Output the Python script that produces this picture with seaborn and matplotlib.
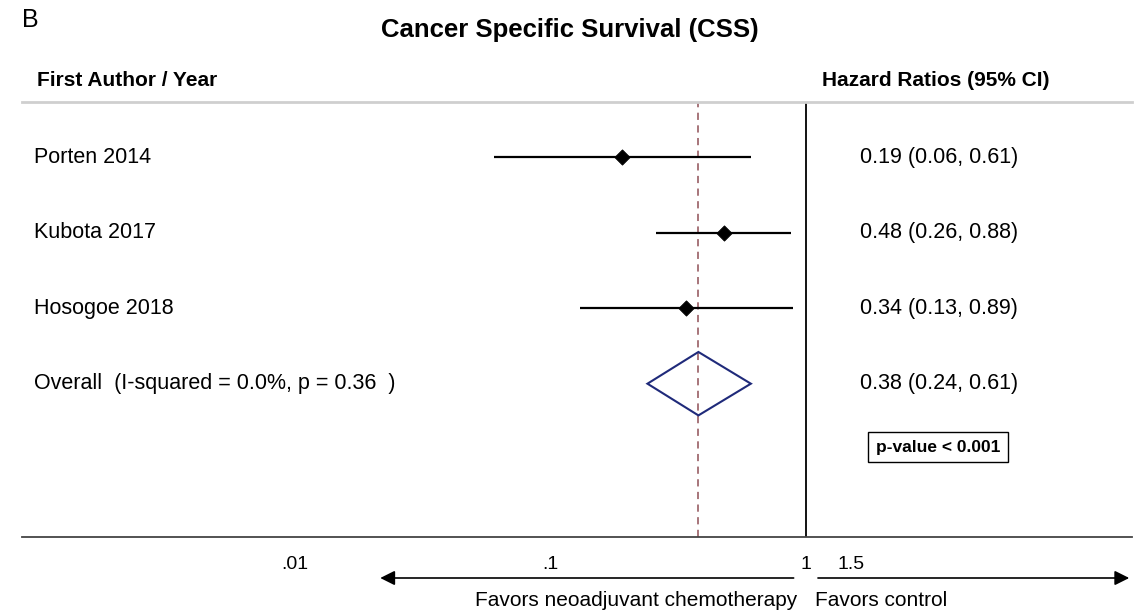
import numpy as np
import pandas as pd
import seaborn as sns
import matplotlib.pyplot as plt
from matplotlib.transforms import blended_transform_factory

studies = ['Porten 2014', 'Kubota 2017', 'Hosogoe 2018']
hr = [0.19, 0.48, 0.34]
ci_low = [0.06, 0.26, 0.13]
ci_high = [0.61, 0.88, 0.89]
rows = [1, 2, 3]

overall_label = 'Overall  (I-squared = 0.0%, p = 0.36  )'
overall_hr = 0.38
overall_low = 0.24
overall_high = 0.61
overall_row = 4

xticks = [0.01, 0.1, 1, 1.5]
xtick_labels = ['.01', '.1', '1', '1.5']

sns.set_style('white')
plt.rcParams['font.family'] = ['Liberation Sans', 'DejaVu Sans']
plt.rcParams['text.color'] = 'black'
plt.rcParams['xtick.color'] = 'black'

df = pd.DataFrame({'study': studies, 'hr': hr, 'lo': ci_low, 'hi': ci_high, 'row': rows})

fig = plt.figure(figsize=(11.4, 6.12), dpi=100)
ax = fig.add_axes([22 / 1140, 75 / 612, 1110 / 1140, 435 / 612])
ax.set_xscale('log')
ax.set_xlim(0.00085, 19)
ax.set_ylim(6.03, 0.27)

# CI lines + point estimates
ax.hlines(df['row'], df['lo'], df['hi'], color='black', lw=1.6, zorder=2)
sns.scatterplot(data=df, x='hr', y='row', marker='D', s=60, color='black',
                edgecolor='black', ax=ax, zorder=3, legend=False)

# pooled diamond
ax.fill([overall_low, overall_hr, overall_high, overall_hr, overall_low],
        [overall_row, overall_row - 0.42, overall_row, overall_row + 0.42, overall_row],
        facecolor='none', edgecolor='#1f2a7a', lw=1.5, zorder=3)

ax.axvline(1, color='black', lw=1.3, zorder=1)
ax.axvline(overall_hr, color='#a06a70', lw=1.3, ls=(0, (4, 3)), zorder=1)

# axes styling
for s in ['left', 'right']:
    ax.spines[s].set_visible(False)
ax.spines['top'].set_color('#cfcfcf')
ax.spines['top'].set_linewidth(2)
ax.spines['bottom'].set_color('#444444')
ax.spines['bottom'].set_linewidth(1.3)
ax.set_yticks([])
ax.set_xticks(xticks)
ax.set_xticklabels(xtick_labels, fontsize=14)
ax.minorticks_off()
ax.tick_params(axis='x', direction='out', length=8, width=1.2, color='#444444', pad=6)
ax.set_xlabel('')
ax.set_ylabel('')

# text columns
tr = blended_transform_factory(fig.transFigure, ax.transData)
for r, name, h, l, u in zip(rows, studies, hr, ci_low, ci_high):
    ax.text(34 / 1140, r, name, transform=tr, fontsize=15.5, va='center', ha='left')
    ax.text(860 / 1140, r, f'{h:.2f} ({l:.2f}, {u:.2f})', transform=tr,
            fontsize=15.5, va='center', ha='left')
ax.text(34 / 1140, overall_row, overall_label, transform=tr, fontsize=15.5, va='center', ha='left')
ax.text(860 / 1140, overall_row, f'{overall_hr:.2f} ({overall_low:.2f}, {overall_high:.2f})',
        transform=tr, fontsize=15.5, va='center', ha='left')
ax.text(938 / 1140, 4.84, 'p-value < 0.001', transform=tr, fontsize=12.5, fontweight='bold',
        va='center', ha='center',
        bbox=dict(boxstyle='square,pad=0.45', facecolor='white', edgecolor='black', lw=1))

# headers and title
fig.text(37 / 1140, 1 - 80 / 612, 'First Author / Year', fontsize=15, fontweight='bold', va='center')
fig.text(822 / 1140, 1 - 80 / 612, 'Hazard Ratios (95% CI)', fontsize=15, fontweight='bold', va='center')
fig.text(570 / 1140, 1 - 30 / 612, 'Cancer Specific Survival (CSS)', fontsize=18.5,
         fontweight='bold', ha='center', va='center')
fig.text(22 / 1140, 1 - 20 / 612, 'B', fontsize=18, ha='left', va='center')

# favours arrows
atr = blended_transform_factory(ax.transData, ax.transAxes)
ya = -(578 - 537) / 435
ax.annotate('', xy=(0.021, ya), xytext=(0.92, ya), xycoords=atr, textcoords=atr,
            arrowprops=dict(arrowstyle='-|>', color='black', lw=1.2, mutation_scale=22), annotation_clip=False)
ax.annotate('', xy=(19, ya), xytext=(1.09, ya), xycoords=atr, textcoords=atr,
            arrowprops=dict(arrowstyle='-|>', color='black', lw=1.2, mutation_scale=22), annotation_clip=False)
yt = -(601 - 537) / 435
ax.text(0.93, yt, 'Favors neoadjuvant chemotherapy', transform=atr, fontsize=15,
        ha='right', va='center')
ax.text(1.09, yt, 'Favors control', transform=atr, fontsize=15, ha='left', va='center')

fig.savefig('out.png', dpi=100)
